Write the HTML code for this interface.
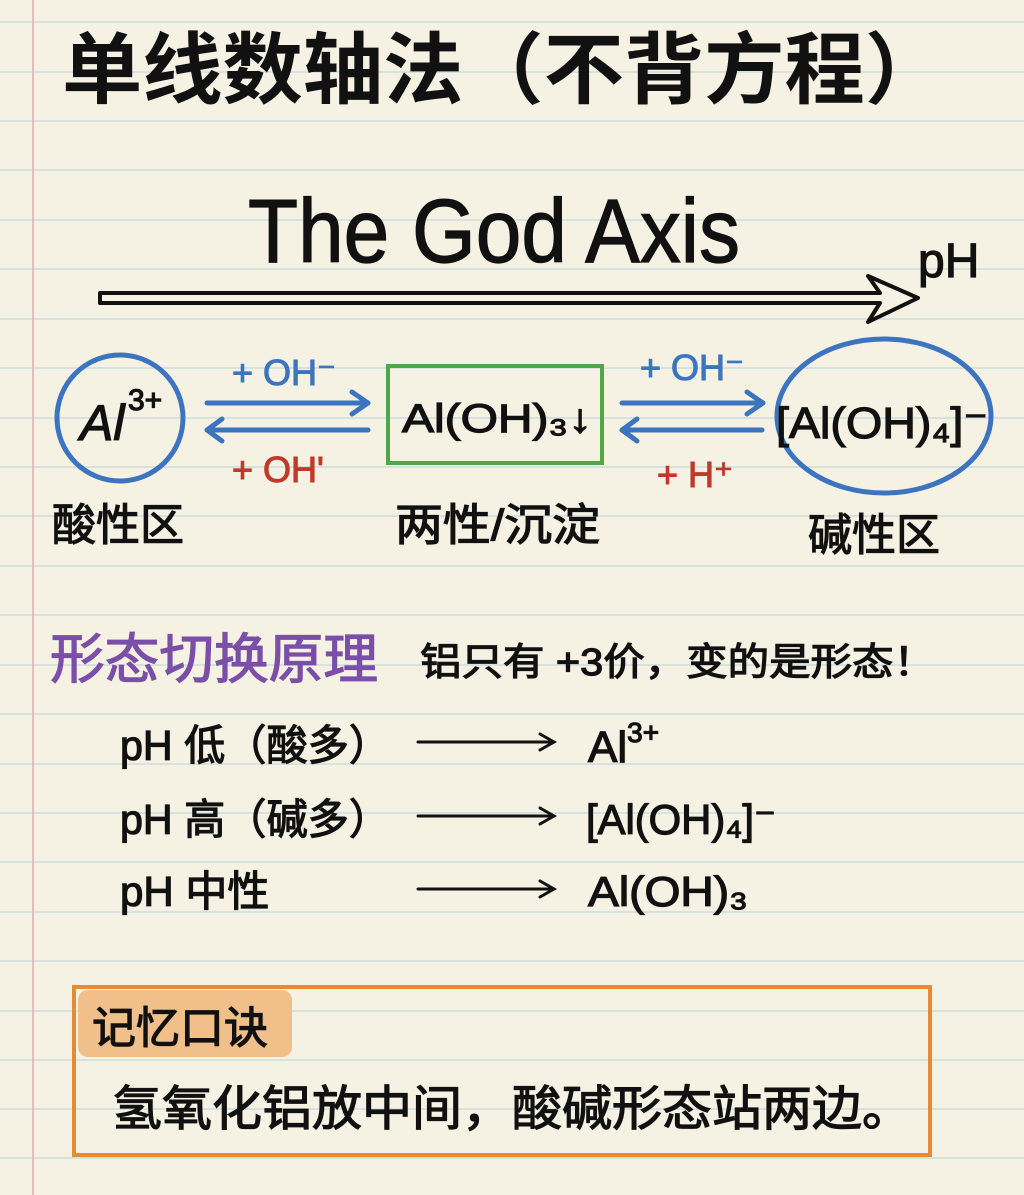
<!DOCTYPE html>
<html><head><meta charset="utf-8"><style>
html,body{margin:0;padding:0;background:#f5f2e3;}
svg{display:block}
text{font-family:"Liberation Sans","Noto Sans CJK SC",sans-serif;}
.b{stroke:#111;stroke-width:1.2;}
</style></head><body>
<svg width="1024" height="1195" viewBox="0 0 1024 1195" xmlns="http://www.w3.org/2000/svg">
<rect width="1024" height="1195" fill="#f5f2e3"/>
<g stroke="#c4d8da" stroke-width="1.3">
<line x1="0" y1="22" x2="1024" y2="22"/><line x1="0" y1="72" x2="1024" y2="72"/><line x1="0" y1="121" x2="1024" y2="121"/><line x1="0" y1="170" x2="1024" y2="170"/><line x1="0" y1="220" x2="1024" y2="220"/><line x1="0" y1="269" x2="1024" y2="269"/><line x1="0" y1="319" x2="1024" y2="319"/><line x1="0" y1="368" x2="1024" y2="368"/><line x1="0" y1="418" x2="1024" y2="418"/><line x1="0" y1="467" x2="1024" y2="467"/><line x1="0" y1="516" x2="1024" y2="516"/><line x1="0" y1="566" x2="1024" y2="566"/><line x1="0" y1="615" x2="1024" y2="615"/><line x1="0" y1="665" x2="1024" y2="665"/><line x1="0" y1="714" x2="1024" y2="714"/><line x1="0" y1="764" x2="1024" y2="764"/><line x1="0" y1="813" x2="1024" y2="813"/><line x1="0" y1="862" x2="1024" y2="862"/><line x1="0" y1="912" x2="1024" y2="912"/><line x1="0" y1="961" x2="1024" y2="961"/><line x1="0" y1="1011" x2="1024" y2="1011"/><line x1="0" y1="1060" x2="1024" y2="1060"/><line x1="0" y1="1109" x2="1024" y2="1109"/><line x1="0" y1="1158" x2="1024" y2="1158"/>
</g>
<line x1="33" y1="0" x2="33" y2="1195" stroke="#e4a9b0" stroke-width="1.5"/>

<text x="62" y="97" font-size="78" font-weight="bold" fill="#111" textLength="883" lengthAdjust="spacingAndGlyphs">单线数轴法（不背方程）</text>
<text x="248" y="262" font-size="90" fill="#111" class="b" textLength="492" lengthAdjust="spacingAndGlyphs">The God Axis</text>

<path d="M100 293 L880 293 L868 276 L918 298 L868 322 L880 303 L100 303 Z" fill="none" stroke="#111" stroke-width="4" stroke-linejoin="round"/>
<text x="918" y="277" font-size="48" fill="#111" class="b">pH</text>

<circle cx="120" cy="418" r="63" fill="none" stroke="#3d74c0" stroke-width="5"/>
<text x="80" y="440" font-size="50" fill="#111" class="b" font-style="italic">Al</text>
<text x="128" y="410" font-size="30" fill="#111" class="b">3+</text>

<g stroke="#3d74c0" stroke-width="5" fill="none" stroke-linecap="round" stroke-linejoin="round">
<line x1="207" y1="403" x2="368" y2="403"/><polyline points="352,392 368,403 352,414"/>
<line x1="207" y1="430" x2="368" y2="430"/><polyline points="222,419 207,430 222,441"/>
<line x1="622" y1="403" x2="763" y2="403"/><polyline points="747,392 763,403 747,414"/>
<line x1="622" y1="430" x2="762" y2="430"/><polyline points="637,419 622,430 637,441"/>
</g>
<text x="232" y="385" font-size="36" fill="#3d74c0" stroke="#3d74c0" stroke-width="1">+ OH⁻</text>
<text x="232" y="482" font-size="36" fill="#c0392b" stroke="#c0392b" stroke-width="1">+ OH'</text>
<text x="640" y="380" font-size="36" fill="#3d74c0" stroke="#3d74c0" stroke-width="1">+ OH⁻</text>
<text x="657" y="487" font-size="36" fill="#c0392b" stroke="#c0392b" stroke-width="1">+ H⁺</text>

<rect x="388" y="366" width="214" height="97" fill="none" stroke="#4ea84a" stroke-width="4"/>
<text x="402" y="432" font-size="40" fill="#111" class="b" textLength="190" lengthAdjust="spacingAndGlyphs">Al(OH)₃↓</text>

<ellipse cx="884" cy="416" rx="107" ry="77" fill="none" stroke="#3d74c0" stroke-width="5"/>
<text x="776" y="438" font-size="44" fill="#111" class="b" textLength="212" lengthAdjust="spacingAndGlyphs">[Al(OH)₄]⁻</text>

<text x="52" y="540" font-size="44" fill="#111" class="b">酸性区</text>
<text x="395" y="540" font-size="44" fill="#111" class="b" textLength="205" lengthAdjust="spacingAndGlyphs">两性/沉淀</text>
<text x="808" y="550" font-size="44" fill="#111" class="b">碱性区</text>

<text x="50" y="678" font-size="54" fill="#7b4fa8" stroke="#7b4fa8" stroke-width="1.2" textLength="328" lengthAdjust="spacingAndGlyphs">形态切换原理</text>
<text x="420" y="675" font-size="38" fill="#111" class="b" textLength="515" lengthAdjust="spacingAndGlyphs">铝只有 +3价，变的是形态！</text>

<g font-size="42" fill="#111" class="b">
<text x="120" y="760" textLength="270" lengthAdjust="spacingAndGlyphs">pH 低（酸多）</text>
<text x="120" y="834" textLength="270" lengthAdjust="spacingAndGlyphs">pH 高（碱多）</text>
<text x="120" y="906">pH 中性</text>
<text x="588" y="762" font-size="44">Al<tspan font-size="28" dy="-20">3+</tspan></text>
<text x="586" y="834" textLength="190" lengthAdjust="spacingAndGlyphs">[Al(OH)₄]⁻</text>
<text x="588" y="906" textLength="160" lengthAdjust="spacingAndGlyphs">Al(OH)₃</text>
</g>
<g stroke="#111" stroke-width="3" fill="none" stroke-linecap="round">
<line x1="418" y1="742" x2="553" y2="742"/><polyline points="540,734 554,742 540,750"/>
<line x1="418" y1="816" x2="553" y2="816"/><polyline points="540,808 554,816 540,824"/>
<line x1="418" y1="889" x2="553" y2="889"/><polyline points="540,881 554,889 540,897"/>
</g>

<rect x="74" y="987" width="856" height="168" fill="none" stroke="#e58a35" stroke-width="4"/>
<rect x="78" y="990" width="214" height="67" rx="10" fill="#f0bf8a"/>
<text x="92" y="1043" font-size="44" fill="#111" class="b">记忆口诀</text>
<text x="112" y="1125" font-size="48" fill="#111" class="b" textLength="800" lengthAdjust="spacingAndGlyphs">氢氧化铝放中间，酸碱形态站两边。</text>
</svg>
</body></html>
